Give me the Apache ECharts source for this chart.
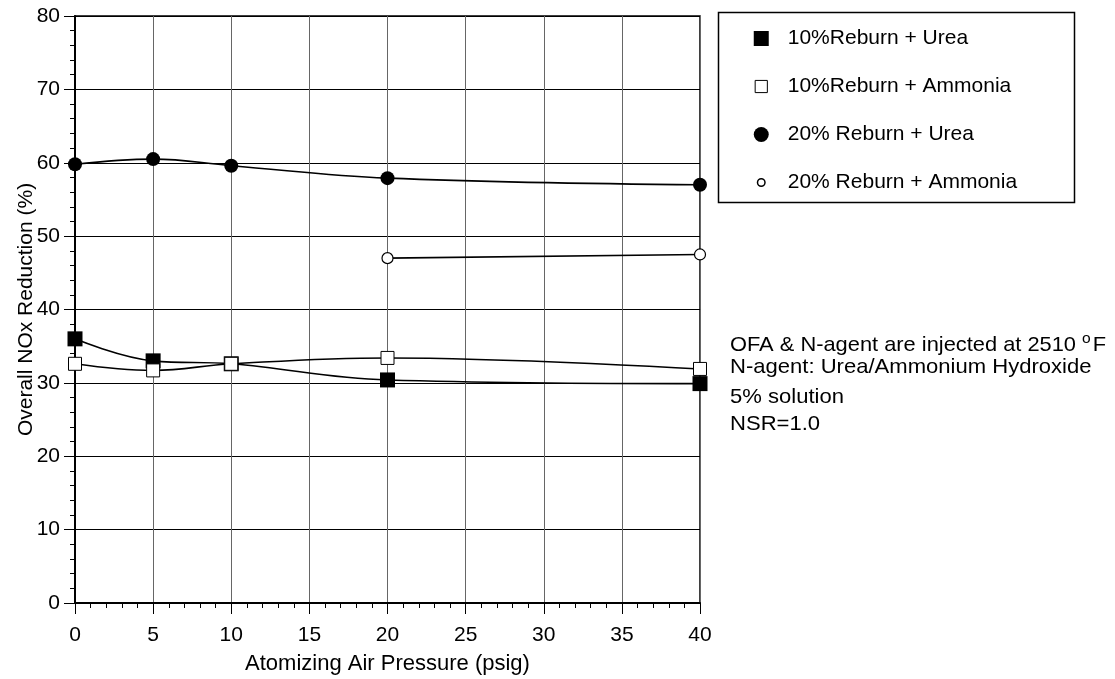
<!DOCTYPE html>
<html><head><meta charset="utf-8">
<script src="https://cdn.jsdelivr.net/npm/echarts@6/dist/echarts.min.js"></script>
<style>html,body{margin:0;padding:0;background:#fff}#c{width:1115px;height:679px}</style>
</head><body><div id="c"></div>
<script>
const pressures = [0, 5, 10, 20, 40];
const pressures20Amm = [20, 40];
const reburn10Urea = [36.0, 33.0, 32.6, 30.4, 29.9];
const reburn10Ammonia = [32.6, 31.7, 32.6, 33.4, 31.9];
const reburn20Urea = [59.8, 60.5, 59.6, 57.9, 57.0];
const reburn20Ammonia = [47.0, 47.5];
const seriesNames = ['10%Reburn + Urea', '10%Reburn + Ammonia', '20% Reburn + Urea', '20% Reburn + Ammonia'];
const xTicks = [0, 5, 10, 15, 20, 25, 30, 35, 40];
const yTicks = [0, 10, 20, 30, 40, 50, 60, 70, 80];
const noteLines = ['N-agent: Urea/Ammonium Hydroxide', '5% solution', 'NSR=1.0'];

const pair = (xs, ys) => xs.map((x, i) => [x, ys[i]]);
const FONT = '"Liberation Sans", Arial, sans-serif';

const chart = echarts.init(document.getElementById('c'), null, {renderer: 'canvas'});
const lineStyle = {color: '#000', width: 1.6};
const option = {
  animation: false,
  backgroundColor: '#fff',
  grid: {left: 75, right: 415, top: 16, bottom: 76, containLabel: false, outerBoundsMode: 'none',
         show: true, borderColor: '#000', borderWidth: 1.5, backgroundColor: 'transparent'},
  xAxis: {
    type: 'value', min: xTicks[0], max: xTicks[xTicks.length - 1], interval: 5,
    name: 'Atomizing Air Pressure (psig)', nameLocation: 'middle', nameGap: 50, nameMoveOverlap: false,
    nameTextStyle: {fontFamily: FONT, fontSize: 22, color: '#000'},
    axisLine: {show: true, onZero: false, lineStyle: {color: '#000', width: 2}},
    axisTick: {show: true, inside: false, length: 11, lineStyle: {color: '#000', width: 1}},
    minorTick: {show: true, splitNumber: 5, length: 5, lineStyle: {color: '#000', width: 1}},
    axisLabel: {fontFamily: FONT, fontSize: 21, color: '#000', margin: 22},
    splitLine: {show: true, lineStyle: {color: '#666', width: 1}}
  },
  yAxis: {
    type: 'value', min: yTicks[0], max: yTicks[yTicks.length - 1], interval: 10,
    name: 'Overall NOx Reduction (%)', nameLocation: 'middle', nameGap: 38, nameMoveOverlap: false,
    nameTextStyle: {fontFamily: FONT, fontSize: 21, color: '#000'},
    axisLine: {show: true, onZero: false, lineStyle: {color: '#000', width: 2}},
    axisTick: {show: true, inside: false, length: 11, lineStyle: {color: '#000', width: 1}},
    minorTick: {show: true, splitNumber: 5, length: 5, lineStyle: {color: '#000', width: 1}},
    axisLabel: {fontFamily: FONT, fontSize: 21, color: '#000', margin: 15},
    splitLine: {show: true, lineStyle: {color: '#000', width: 1}}
  },
  legend: {
    orient: 'vertical', left: 753, top: 28, padding: 0, itemGap: 27, itemWidth: 15, itemHeight: 15,
    textStyle: {fontFamily: FONT, fontSize: 21, color: '#000', padding: [0, 0, 0, 14]},
    data: [
      {name: seriesNames[0], icon: 'rect', itemStyle: {color: '#000', borderWidth: 0}},
      {name: seriesNames[1], icon: 'path://M-0.5,-0.5L-0.499,-0.5M15.5,15.5L15.499,15.5M1,1H14V14H1Z', itemStyle: {color: '#fff', borderColor: '#000', borderWidth: 1}},
      {name: seriesNames[2], icon: 'circle', itemStyle: {color: '#000', borderWidth: 0}},
      {name: seriesNames[3], icon: 'path://M-1,-1L-0.999,-1M17,17L16.999,17M12.5,8A4.5,4.5 0 1 1 3.5,8A4.5,4.5 0 1 1 12.5,8Z', itemStyle: {color: '#fff', borderColor: '#000', borderWidth: 1.5}}
    ]
  },
  graphic: [
    {type: 'rect', left: 716, top: 10, shape: {width: 356, height: 190}, style: {fill: 'none', stroke: '#000', lineWidth: 1.5}, z: 0},
    {type: 'text', x: 730, y: 345, scaleX: 1.04, style: {
      text: '{a|OFA & N-agent are injected at 2510 }{s|o}{a|F}', verticalAlign: 'middle',
      rich: {a: {fontFamily: FONT, fontSize: 21, fill: '#000'}, s: {fontFamily: FONT, fontSize: 15, fill: '#000', padding: [0, 2, 12, 0]}}
    }},
    {type: 'text', x: 730, y: 367, scaleX: 1.05, style: {text: noteLines[0], font: '21px ' + FONT, fill: '#000', verticalAlign: 'middle'}},
    {type: 'text', x: 730, y: 397, scaleX: 1.05, style: {text: noteLines[1], font: '21px ' + FONT, fill: '#000', verticalAlign: 'middle'}},
    {type: 'text', x: 730, y: 424, scaleX: 1.05, style: {text: noteLines[2], font: '21px ' + FONT, fill: '#000', verticalAlign: 'middle'}}
  ],
  series: [
    {name: seriesNames[0], type: 'line', smooth: 0.4, data: pair(pressures, reburn10Urea),
     symbol: 'rect', symbolSize: 15, itemStyle: {color: '#000'}, lineStyle, z: 3},
    {name: seriesNames[1], type: 'line', smooth: 0.4, data: pair(pressures, reburn10Ammonia),
     symbol: 'rect', symbolSize: 13, itemStyle: {color: '#fff', borderColor: '#000', borderWidth: 1}, lineStyle, z: 4},
    {name: seriesNames[2], type: 'line', smooth: 0.4, data: pair(pressures, reburn20Urea),
     symbol: 'circle', symbolSize: 14, itemStyle: {color: '#000'}, lineStyle, z: 3},
    {name: seriesNames[3], type: 'line', smooth: 0.4, data: pair(pressures20Amm, reburn20Ammonia),
     symbol: 'circle', symbolSize: 11, itemStyle: {color: '#fff', borderColor: '#000', borderWidth: 1.2}, lineStyle, z: 3}
  ]
};
chart.setOption(option);
</script></body></html>
